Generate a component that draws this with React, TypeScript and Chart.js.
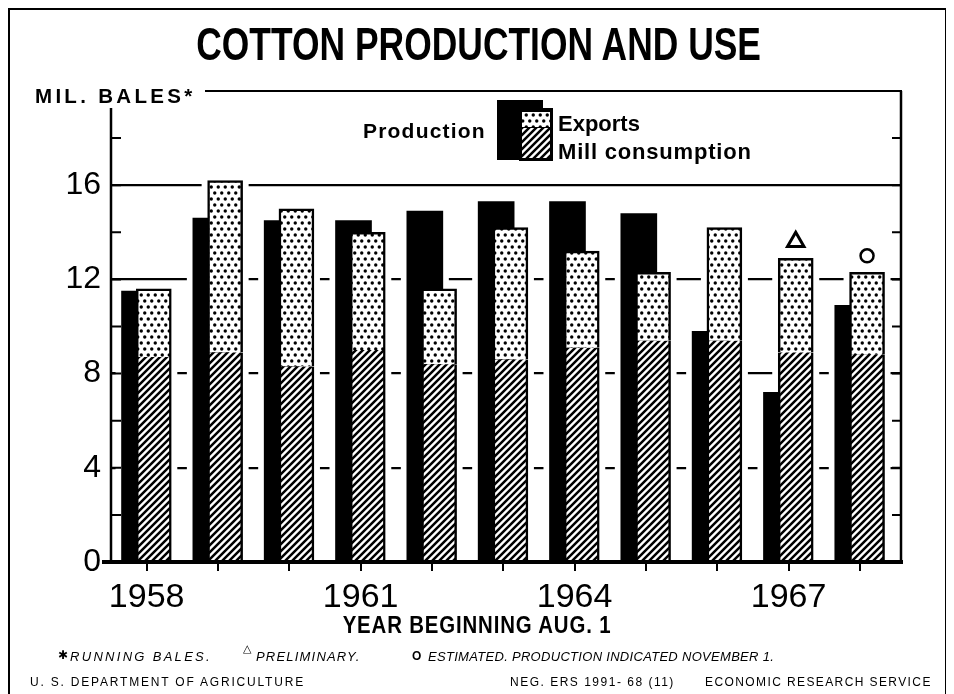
import React, { useEffect, useRef } from 'react';
import { Chart, registerables } from 'chart.js';

Chart.register(...registerables);

// ---------- data ----------
const years = [1958, 1959, 1960, 1961, 1962, 1963, 1964, 1965, 1966, 1967, 1968];
const production = [11.5, 14.6, 14.5, 14.5, 14.9, 15.3, 15.3, 14.8, 9.8, 7.2, 10.9];
const millConsumption = [8.7, 8.9, 8.3, 9.0, 8.4, 8.6, 9.1, 9.4, 9.4, 8.9, 8.8];
const exportsData = [2.9, 7.3, 6.7, 5.0, 3.2, 5.6, 4.1, 2.9, 4.8, 4.0, 3.5];
const labeledYears = [1958, 1961, 1964, 1967];
const yTickLabels = [0, 4, 8, 12, 16];
const preliminaryYears = [1967];
const estimatedYears = [1968];

// ---------- style constants ----------
const SHIFT = 0.1; // half distance between production bar and use bar within a year
const MARK_GAP = 0.7; // marker distance above the use bar (value units)
const HALO = 6;
const SANS = "'Liberation Sans', Arial, sans-serif";
const DEJAVU = "'DejaVu Sans', sans-serif";

function makeHatch(): CanvasPattern {
  const n = 7;
  const c = document.createElement('canvas');
  c.width = n;
  c.height = n;
  const g = c.getContext('2d')!;
  g.fillStyle = '#fff';
  g.fillRect(0, 0, n, n);
  g.strokeStyle = '#000';
  g.lineWidth = 2.5;
  g.beginPath();
  g.moveTo(-1, n + 1);
  g.lineTo(n + 1, -1);
  g.moveTo(-2, 2);
  g.lineTo(2, -2);
  g.moveTo(n - 2, n + 2);
  g.lineTo(n + 2, n - 2);
  g.stroke();
  return g.createPattern(c, 'repeat')!;
}

function makeDots(): CanvasPattern {
  const c = document.createElement('canvas');
  c.width = 7;
  c.height = 12;
  const g = c.getContext('2d')!;
  g.fillStyle = '#fff';
  g.fillRect(0, 0, 7, 12);
  g.fillStyle = '#000';
  const dot = (x: number, y: number) => {
    g.beginPath();
    g.arc(x, y, 1.7, 0, Math.PI * 2);
    g.fill();
  };
  dot(1.75, 3);
  dot(5.25, 9);
  return g.createPattern(c, 'repeat')!;
}

export default function App() {
  const ref = useRef<HTMLCanvasElement>(null);

  useEffect(() => {
    document.documentElement.style.overflow = 'hidden';
    const hatch = makeHatch();
    const dots = makeDots();
    const gridValues = yTickLabels.filter((v) => v > 0);
    const totals = years.map((_, i) => millConsumption[i] + exportsData[i]);

    const decor = {
      id: 'decor',
      beforeDatasetsDraw(chart: any) {
        const ctx = chart.ctx;
        ctx.save();
        ctx.fillStyle = '#fff';
        [2, 3, 4].forEach((di) => {
          const meta = chart.getDatasetMeta(di);
          meta.data.forEach((el: any) => {
            const p = el.getProps(['x', 'y', 'base', 'width'], true);
            const top = Math.min(p.y, p.base);
            ctx.fillRect(p.x - p.width / 2 - HALO, top - 4, p.width + HALO * 2, Math.abs(p.base - p.y) + 4);
          });
        });
        ctx.restore();
      },
      afterDatasetsDraw(chart: any) {
        const ctx = chart.ctx;
        const { left, right, top, bottom } = chart.chartArea;
        const yS = chart.scales.y;
        ctx.save();
        ctx.strokeStyle = '#000';
        ctx.fillStyle = '#000';
        // left axis (starts below the unit label)
        ctx.lineWidth = 2.5;
        ctx.beginPath();
        ctx.moveTo(left, 98);
        ctx.lineTo(left, bottom);
        ctx.stroke();
        // right axis
        ctx.beginPath();
        ctx.moveTo(right - 1, top);
        ctx.lineTo(right - 1, bottom);
        ctx.stroke();
        // top line
        ctx.lineWidth = 2;
        ctx.beginPath();
        ctx.moveTo(195, top);
        ctx.lineTo(right, top);
        ctx.stroke();
        // inward tick marks every 2
        ctx.lineWidth = 2;
        for (let v = 2; v < 20; v += 2) {
          const y = yS.getPixelForValue(v);
          ctx.beginPath();
          ctx.moveTo(left, y);
          ctx.lineTo(left + 10, y);
          ctx.moveTo(right - 10, y);
          ctx.lineTo(right, y);
          ctx.stroke();
        }
        // baseline
        ctx.fillRect(left - 9, bottom - 2, right - left + 10, 4);

        // legend swatch
        ctx.fillRect(487, 90, 46, 60);
        ctx.fillRect(509, 98, 34, 53);
        ctx.fillStyle = dots;
        ctx.fillRect(512, 102, 28, 15);
        ctx.fillStyle = hatch;
        ctx.fillRect(512, 118, 28, 30);
        ctx.restore();
      },
    };

    const chart = new Chart(ref.current!, {
      type: 'bar',
      data: {
        datasets: [
          {
            type: 'scatter',
            label: 'Preliminary',
            data: preliminaryYears.map((yr) => ({ x: yr + SHIFT, y: totals[years.indexOf(yr)] + MARK_GAP })),
            pointStyle: 'triangle',
            pointRadius: 9.5,
            pointBorderWidth: 3,
            pointBackgroundColor: '#fff',
            pointBorderColor: '#000',
            stack: 'm1',
          } as any,
          {
            type: 'scatter',
            label: 'Estimated',
            data: estimatedYears.map((yr) => ({ x: yr + SHIFT, y: totals[years.indexOf(yr)] + MARK_GAP })),
            pointStyle: 'circle',
            pointRadius: 6.5,
            pointBorderWidth: 2.5,
            pointBackgroundColor: '#fff',
            pointBorderColor: '#000',
            stack: 'm2',
          } as any,
          {
            type: 'bar',
            label: 'Mill consumption',
            data: years.map((yr, i) => ({ x: yr + SHIFT, y: millConsumption[i] })),
            stack: 'use',
            grouped: false,
            barThickness: 35,
            backgroundColor: hatch,
            borderColor: '#000',
            borderWidth: { left: 2.5, right: 2.5, top: 0, bottom: 0 },
            borderSkipped: false,
          } as any,
          {
            type: 'bar',
            label: 'Exports',
            data: years.map((yr, i) => ({ x: yr + SHIFT, y: exportsData[i] })),
            stack: 'use',
            grouped: false,
            barThickness: 35,
            backgroundColor: dots,
            borderColor: '#000',
            borderWidth: { left: 2.5, right: 2.5, top: 2.5, bottom: 0 },
            borderSkipped: false,
          } as any,
          {
            type: 'bar',
            label: 'Production',
            data: years.map((yr, i) => ({ x: yr - SHIFT, y: production[i] })),
            stack: 'prod',
            grouped: false,
            barThickness: 36,
            backgroundColor: '#000',
            borderWidth: 0,
          } as any,
        ],
      },
      options: {
        animation: false,
        responsive: false,
        events: [],
        layout: { padding: { top: 81, right: 43, bottom: 84, left: 0 } },
        plugins: { legend: { display: false }, title: { display: false }, tooltip: { enabled: false } },
        scales: {
          x: {
            type: 'linear',
            min: 1957.5,
            max: 1968.59,
            offset: false,
            afterFit: (s: any) => {
              s.height = 60;
            },
            grid: { offset: false, drawOnChartArea: false, drawTicks: true, tickLength: 9, color: '#000', lineWidth: 2 },
            border: { display: false },
            ticks: {
              stepSize: 1,
              includeBounds: false,
              autoSkip: false,
              maxRotation: 0,
              padding: 6,
              color: '#000',
              font: { family: SANS, size: 34 },
              callback: (v: any) => (labeledYears.includes(Number(v)) ? String(v) : ''),
            },
          },
          y: {
            type: 'linear',
            stacked: true,
            min: 0,
            max: 20,
            afterFit: (s: any) => {
              s.width = 101;
            },
            grid: {
              drawTicks: false,
              lineWidth: 2.2,
              color: (c: any) => (c.tick && gridValues.includes(c.tick.value) ? '#000' : 'rgba(0,0,0,0)'),
            },
            border: { display: false },
            ticks: {
              stepSize: 2,
              autoSkip: false,
              padding: 10,
              color: '#000',
              font: { family: SANS, size: 32 },
              callback: (v: any) => (yTickLabels.includes(Number(v)) ? String(v) : ''),
            },
          },
        },
      } as any,
      plugins: [decor],
    });
    return () => chart.destroy();
  }, []);

  const abs = (left: number, top: number, extra: React.CSSProperties): React.CSSProperties => ({
    position: 'absolute',
    left,
    top,
    whiteSpace: 'nowrap',
    lineHeight: 1,
    color: '#000',
    margin: 0,
    ...extra,
  });

  return (
    <div
      style={{
        position: 'relative',
        width: 940,
        height: 700,
        border: '2px solid #000',
        borderRight: '3px solid #000',
        boxSizing: 'border-box',
        background: '#fff',
        overflow: 'hidden',
      }}
    >
      <canvas ref={ref} width={935} height={696} style={{ display: 'block' }} />
      <div
        style={{
          ...abs(0, 11, {}),
          width: 937,
          textAlign: 'center',
          fontFamily: SANS,
          fontWeight: 700,
          fontSize: 46,
          transform: 'scaleX(0.77)',
          transformOrigin: '469px 0',
        }}
      >
        COTTON PRODUCTION AND USE
      </div>
      <div style={abs(25, 76, { fontFamily: SANS, fontWeight: 700, fontSize: 20.5, letterSpacing: 3.3 })}>MIL. BALES*</div>
      <div style={abs(353, 110, { fontFamily: SANS, fontWeight: 700, fontSize: 21, letterSpacing: 1.2 })}>Production</div>
      <div style={abs(548, 103, { fontFamily: SANS, fontWeight: 700, fontSize: 22 })}>Exports</div>
      <div style={abs(548, 131, { fontFamily: SANS, fontWeight: 700, fontSize: 22, letterSpacing: 0.8 })}>Mill consumption</div>
      <div
        style={{
          ...abs(0, 603, {}),
          width: 934,
          textAlign: 'center',
          fontFamily: SANS,
          fontWeight: 700,
          fontSize: 24,
          letterSpacing: 1,
          transform: 'scaleX(0.85)',
          transformOrigin: '467px 0',
        }}
      >
        YEAR BEGINNING AUG. 1
      </div>
      <div style={abs(48, 639, { fontFamily: DEJAVU, fontWeight: 700, fontSize: 12 })}>✱</div>
      <div style={abs(60, 640, { fontFamily: SANS, fontStyle: 'italic', fontSize: 13, letterSpacing: 2.3 })}>RUNNING BALES.</div>
      <div style={abs(233, 633, { fontFamily: DEJAVU, fontWeight: 700, fontSize: 11 })}>△</div>
      <div style={abs(246, 640, { fontFamily: SANS, fontStyle: 'italic', fontSize: 13, letterSpacing: 1.2 })}>PRELIMINARY.</div>
      <div style={abs(402, 640, { fontFamily: SANS, fontWeight: 700, fontSize: 12 })}>O</div>
      <div style={abs(418, 640, { fontFamily: SANS, fontStyle: 'italic', fontSize: 13, letterSpacing: 0.3 })}>
        ESTIMATED. PRODUCTION INDICATED NOVEMBER 1.
      </div>
      <div style={abs(20, 666, { fontFamily: SANS, fontSize: 12, letterSpacing: 1.8 })}>U. S. DEPARTMENT OF AGRICULTURE</div>
      <div style={abs(500, 666, { fontFamily: SANS, fontSize: 12, letterSpacing: 1.5 })}>NEG. ERS 1991- 68 (11)</div>
      <div style={abs(695, 666, { fontFamily: SANS, fontSize: 12, letterSpacing: 1.4 })}>ECONOMIC RESEARCH SERVICE</div>
    </div>
  );
}
